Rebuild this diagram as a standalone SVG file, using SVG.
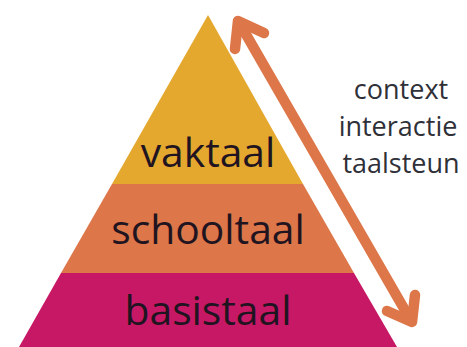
<svg xmlns="http://www.w3.org/2000/svg" width="467" height="347" viewBox="0 0 467 347">
<style>
.l{font-family:"Open Sans","Noto Sans",sans-serif;font-size:40.8px;fill:#1f1420;text-anchor:middle}
.s{font-family:"Open Sans","Noto Sans",sans-serif;font-size:27px;fill:#2f3038;text-anchor:middle}
.a{fill:none;stroke:#dd7648;stroke-width:10.5;stroke-linecap:round;stroke-linejoin:round}
</style>
<rect width="467" height="347" fill="#fff"/>
<g id="vaktaal"><polygon points="208,15 303,184 112,184" fill="#e4a82f"/><text class="l" x="208" y="167">vaktaal</text></g>
<g id="schooltaal"><polygon points="112,184 303,184 354,273 61,273" fill="#dd7648"/><text class="l" x="208" y="244">schooltaal</text></g>
<g id="basistaal"><polygon points="61,273 354,273 397,347 19,347" fill="#c71866"/><text class="l" x="208" y="325">basistaal</text></g>
<g id="connectors"><path class="a" d="M240,24 L410,319"/><path class="a" d="M264,33 L238,21 L235,49"/><path class="a" d="M415,295 L412,322 L387,311"/></g>
<g id="labels"><text class="s" x="401" y="99">context</text><text class="s" x="398" y="136">interactie</text><text class="s" x="401" y="173">taalsteun</text></g>
</svg>
